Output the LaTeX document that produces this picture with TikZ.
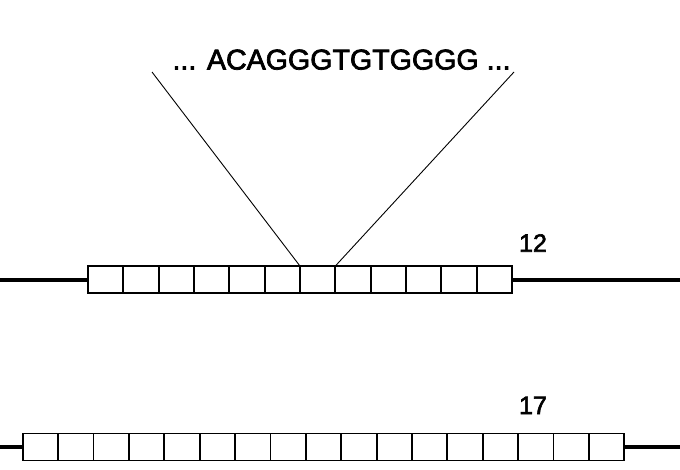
\documentclass[tikz,border=0pt]{standalone}
\usepackage{fontspec}
\setmainfont{Liberation Sans}
\begin{document}
\begin{tikzpicture}[x=1pt,y=-1pt,
  cell/.style={draw=black,line width=1.8pt,minimum width=35.4pt,minimum height=27pt,inner sep=0pt,outer sep=0pt},
  chrom/.style={line width=4pt},
  zoomline/.style={line width=0.9pt},
  seqtext/.style={font=\fontsize{28.6}{30}\selectfont\addfontfeature{FakeBold=2.5},inner sep=0pt,anchor=base},
  numlabel/.style={font=\fontsize{25}{27}\selectfont\addfontfeature{FakeBold=2.5},inner sep=0pt,anchor=base}]
\useasboundingbox (0,0) rectangle (680,469);
% row 1: 12 repeats
\foreach \i in {1,...,12} {
  \node[cell] (a\i) at ({88+35.33*(\i-0.5)},279.5) {};
}
% row 2: 17 repeats
\foreach \i in {1,...,17} {
  \node[cell] (b\i) at ({22.7+35.39*(\i-0.5)},447) {};
}
\coordinate (aL) at (0,279.5);
\coordinate (aR) at (680,279.5);
\coordinate (bL) at (0,447);
\coordinate (bR) at (680,447);
\draw[chrom] (aL) -- (a1.west);
\draw[chrom] (a12.east) -- (aR);
\draw[chrom] (bL) -- (b1.west);
\draw[chrom] (b17.east) -- (bR);
% sequence
\node[seqtext] (seq) at (341.5,69.5) {... ACAGGGTGTGGGG ...};
\coordinate (zl) at (152,72);
\coordinate (zr) at (514,72);
\draw[zoomline] (zl) -- (a7.north west);
\draw[zoomline] (zr) -- (a7.north east);
% labels
\node[numlabel] (n12) at (533,251.7) {12};
\node[numlabel] (n17) at (533,414) {17};
\end{tikzpicture}
\end{document}
